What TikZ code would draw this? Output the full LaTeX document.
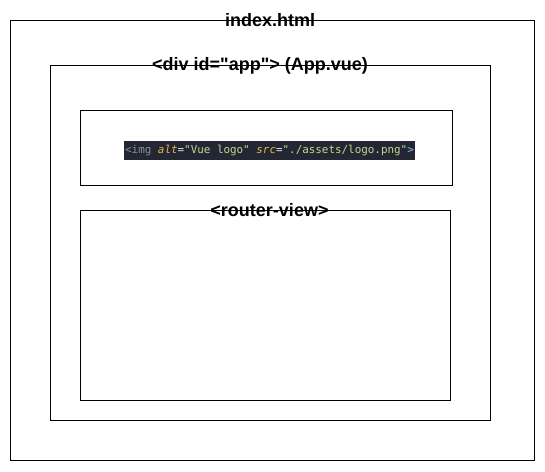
\documentclass[tikz,border=0pt]{standalone}
\usepackage{fontspec}
\setmainfont{Liberation Sans}[Ligatures=TeXOff]
\newfontfamily\codefont{DejaVu Sans Mono}[Ligatures=TeXOff]
\definecolor{codebg}{HTML}{232733}
\definecolor{codegrey}{HTML}{8A8F9A}
\definecolor{codeattr}{HTML}{E8B84A}
\definecolor{codestr}{HTML}{B9DC8E}
\definecolor{codecyan}{HTML}{7FC8E8}
\definecolor{codewhite}{HTML}{E6E6E6}
\begin{document}
\begin{tikzpicture}[x=1pt,y=-1pt,
  frame/.style={draw=black,line width=1pt},
  lbl/.style={font=\fontsize{18}{20}\selectfont\bfseries,inner sep=0pt,anchor=center}]
\useasboundingbox (0,0) rectangle (545,471);
\fill[white] (0,0) rectangle (545,471);
\draw[frame] (10,20) rectangle (534,460);
\draw[frame] (50,65) rectangle (490,420);
\draw[frame] (80,110) rectangle (452.5,185);
\draw[frame] (80,210) rectangle (450,400);
\node[lbl] (idx) at (270,20) {index.html};
\node[lbl] (app) at (260,65.5) {<div id="app"> (App.vue)};
\node[lbl] (rv) at (269.5,210.5) {<router-view>};
\fill[codebg] (124,140.5) rectangle (415,160);
\node[inner sep=0pt,anchor=center,font=\codefont\fontsize{10.9}{12}\selectfont] (code) at (269.5,150.3)
{\textcolor{codegrey}{<img} \textcolor{codeattr}{\itshape alt}\textcolor{codewhite}{=}\textcolor{codestr}{"Vue logo"} \textcolor{codeattr}{\itshape src}\textcolor{codewhite}{=}\textcolor{codestr}{"./assets/logo.png"}\textcolor{codecyan}{>}};
\end{tikzpicture}
\end{document}
